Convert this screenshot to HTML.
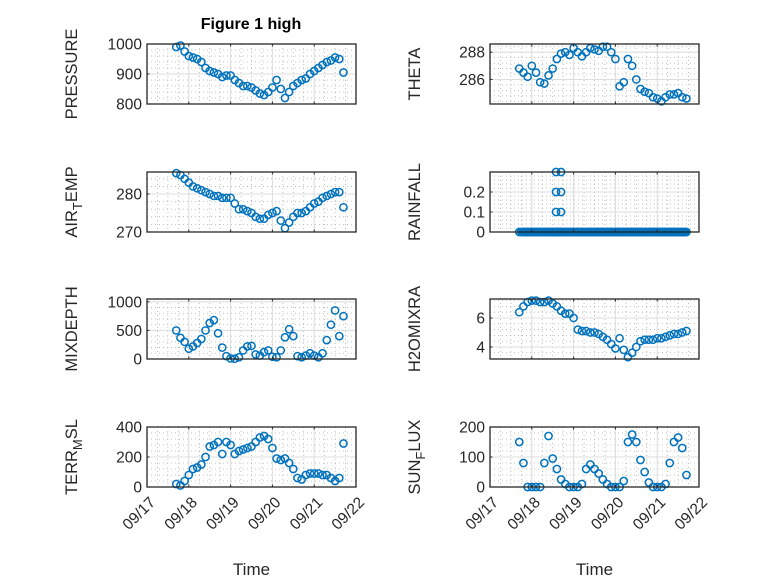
<!DOCTYPE html>
<html><head><meta charset="utf-8"><style>
body{margin:0;background:#fff}
svg{font-family:"Liberation Sans",sans-serif}
</style></head><body>
<svg id="fig" width="778" height="583" viewBox="0 0 778 583" xmlns="http://www.w3.org/2000/svg">
<rect width="778" height="583" fill="#fff"/>
<text x="251" y="29" text-anchor="middle" font-weight="bold" font-size="16" fill="#000">Figure 1 high</text>
</svg>
<script>
const times=[0.7,0.8,0.9,1.0,1.1,1.2,1.3,1.4,1.5,1.6,1.7,1.8,1.9,2.0,2.1,2.2,2.3,2.4,2.5,2.6,2.7,2.8,2.9,3.0,3.1,3.2,3.3,3.4,3.5,3.6,3.7,3.8,3.9,4.0,4.1,4.2,4.3,4.4,4.5,4.6,4.7];
const xTickLabels=["09/17","09/18","09/19","09/20","09/21","09/22"];
const pressure=[990,995,975,960,955,950,940,920,910,905,900,890,895,895,880,870,860,860,855,845,835,830,840,855,880,850,820,840,860,870,880,885,900,910,920,930,940,945,955,950,905];
const airTemp=[285.5,285,284,283,282,281.5,281,280.5,280,279.5,279.5,279,279,279,277.5,276,276,275.5,275,274,273.5,273.5,274.5,275,275.5,273,271,272.5,274,275,275,275.5,276.5,277.5,278,279,279.5,280,280.5,280.5,276.5];
const theta=[286.8,286.5,286.2,287,286.5,285.8,285.7,286.3,286.8,287.5,287.9,288,287.8,288.3,288,287.7,288,288.3,288.2,288.1,288.4,288.4,288,287.5,285.5,285.8,287.5,287,286,285.3,285.1,285,284.7,284.6,284.4,284.7,284.9,284.9,285,284.7,284.6];
const rainfall=[0,0,0,0,0,0,0,0,0,0,0,0,0,0,0,0,0,0,0,0,0,0,0,0,0,0,0,0,0,0,0,0,0,0,0,0,0,0,0,0,0];
const rainEventTimes=[1.58,1.58,1.58,1.7,1.7,1.7,1.63,1.66];
const rainEventValues=[0.1,0.2,0.3,0.1,0.2,0.3,0,0];
const mixDepth=[500,370,300,180,220,280,350,500,630,680,450,200,50,10,5,30,150,220,230,80,60,120,150,40,30,150,380,520,400,50,30,60,100,60,30,100,330,600,850,400,750];
const h2o=[6.4,6.8,7.1,7.2,7.2,7.1,7.1,7.2,7.0,6.8,6.5,6.3,6.3,6.0,5.2,5.1,5.1,5.0,5.0,4.9,4.7,4.5,4.2,3.9,4.6,3.8,3.3,3.6,4.0,4.4,4.5,4.5,4.5,4.6,4.6,4.7,4.8,4.9,4.9,5.0,5.1];
const terrMsl=[20,10,40,80,120,130,150,200,270,280,300,220,300,280,220,240,250,260,270,300,330,340,320,260,190,180,190,160,120,60,50,80,90,90,90,80,80,60,40,60,290];
const sunFlux=[150,80,0,0,0,0,80,170,95,60,25,10,0,0,0,10,60,75,60,45,25,10,0,0,0,20,150,175,150,90,50,15,0,0,0,10,80,150,165,130,40];

const NS="http://www.w3.org/2000/svg";
const svg=document.getElementById('fig');
function mk(tag,attrs,parent){const e=document.createElementNS(NS,tag);for(const k in attrs)e.setAttribute(k,attrs[k]);(parent||svg).appendChild(e);return e;}

const panels=[
 {name:'pressure',x0:147,y0:44,ymin:800,ymax:1000,ticks:[800,900,1000],lab:[['PRESSURE']],ys:[pressure],bottom:false},
 {name:'theta',x0:490,y0:44,ymin:284.2,ymax:288.6,ticks:[286,288],lab:[['THETA']],ys:[theta],bottom:false},
 {name:'air-temp',x0:147,y0:172,ymin:270,ymax:285.8,ticks:[270,280],lab:[['AIR'],['T',1],['EMP']],ys:[airTemp],bottom:false},
 {name:'rainfall',x0:490,y0:172,ymin:0,ymax:0.3,ticks:[0,0.1,0.2],lab:[['RAINFALL']],ys:[rainfall],extra:true,bottom:false},
 {name:'mixdepth',x0:147,y0:299,ymin:0,ymax:1050,ticks:[0,500,1000],lab:[['MIXDEPTH']],ys:[mixDepth],bottom:false},
 {name:'h2omixra',x0:490,y0:299,ymin:3.17,ymax:7.31,ticks:[4,6],lab:[['H2OMIXRA']],ys:[h2o],bottom:false},
 {name:'terr-msl',x0:147,y0:427,ymin:0,ymax:400,ticks:[0,200,400],lab:[['TERR'],['M',1],['SL']],ys:[terrMsl],bottom:true},
 {name:'sun-flux',x0:490,y0:427,ymin:0,ymax:200,ticks:[0,100,200],lab:[['SUN'],['F',1],['LUX']],ys:[sunFlux],bottom:true},
];
const W=209,H=60,TMIN=0,TMAX=5;
panels.forEach(p=>{
 const g=mk('g',{});
 
 
 const xs=t=>p.x0+(t-TMIN)/(TMAX-TMIN)*W;
 const ys=v=>p.y0+H-(v-p.ymin)/(p.ymax-p.ymin)*H;
 mk('rect',{x:p.x0,y:p.y0,width:W,height:H,fill:'#fff'},g);
 for(let t=TMIN;t<=TMAX;t+=0.25){if(Math.abs(t-Math.round(t))<1e-6)continue;mk('line',{x1:xs(t),x2:xs(t),y1:p.y0,y2:p.y0+H,stroke:'#b0b0b0','stroke-width':0.8,'stroke-dasharray':'1 3'},g);}
 const step=p.ticks[1]-p.ticks[0],ms=step/5;
 for(let v=p.ticks[0]-step;v<=p.ymax+1e-9;v+=ms){if(v<p.ymin-1e-9)continue;mk('line',{x1:p.x0,x2:p.x0+W,y1:ys(v),y2:ys(v),stroke:'#b0b0b0','stroke-width':0.8,'stroke-dasharray':'1 3'},g);}
 for(let t=TMIN+1;t<TMAX;t++)mk('line',{x1:xs(t),x2:xs(t),y1:p.y0,y2:p.y0+H,stroke:'#dcdcdc','stroke-width':1},g);
 p.ticks.forEach(v=>{if(v>p.ymin+1e-9&&v<p.ymax-1e-9)mk('line',{x1:p.x0,x2:p.x0+W,y1:ys(v),y2:ys(v),stroke:'#dcdcdc','stroke-width':1},g);});
 const dg=mk('g',{fill:'none',stroke:'#0072BD','stroke-width':1.5},g);
 
 
 p.ys[0].forEach((v,i)=>{const c=mk('circle',{cx:xs(times[i]),cy:ys(v),r:3.6},dg);
  
  });
 if(p.extra){rainEventTimes.forEach((t,i)=>{const c=mk('circle',{cx:xs(t),cy:ys(rainEventValues[i]),r:3.6},dg);
  
  });
  for(let t=0.75;t<4.7;t+=0.03){const c=mk('circle',{cx:xs(t),cy:ys(0),r:3.6},dg);
  
  }}
 mk('rect',{x:p.x0,y:p.y0,width:W,height:H,fill:'none',stroke:'#262626','stroke-width':1.3},g);
 for(let t=TMIN;t<=TMAX;t++){mk('line',{x1:xs(t),x2:xs(t),y1:p.y0+H,y2:p.y0+H-2.5,stroke:'#262626'},g);mk('line',{x1:xs(t),x2:xs(t),y1:p.y0,y2:p.y0+2.5,stroke:'#262626'},g);}
 p.ticks.forEach(v=>{mk('line',{x1:p.x0,x2:p.x0+2.5,y1:ys(v),y2:ys(v),stroke:'#262626'},g);
  const tx=mk('text',{x:p.x0-5,y:ys(v)+5.5,'text-anchor':'end','font-size':15.5,fill:'#262626'},g);tx.textContent=String(v);
  
  });
 const lx=p.x0-70,ly=p.y0+H/2;
 const yl=mk('text',{x:lx,y:ly,'text-anchor':'middle','font-size':16.5,fill:'#262626',transform:`rotate(-90 ${lx} ${ly})`},g);
 
 
 p.lab.forEach(([s,sub])=>{const ts=mk('tspan',sub?{'baseline-shift':'-35%','font-size':13}:{},yl);ts.textContent=s;});
 if(p.bottom){
  xTickLabels.forEach((s,i)=>{const X=xs(i),Y=p.y0+H+12;
   const tx=mk('text',{x:X+5,y:Y+6,'text-anchor':'end','font-size':15.5,fill:'#262626',transform:`rotate(-45 ${X+5} ${Y})`},g);tx.textContent=s;
   
   });
  const xt=mk('text',{x:p.x0+W/2,y:575,'text-anchor':'middle','font-size':17,fill:'#262626'},g);xt.textContent='Time';
  
  
 }
});
</script>
</body></html>
